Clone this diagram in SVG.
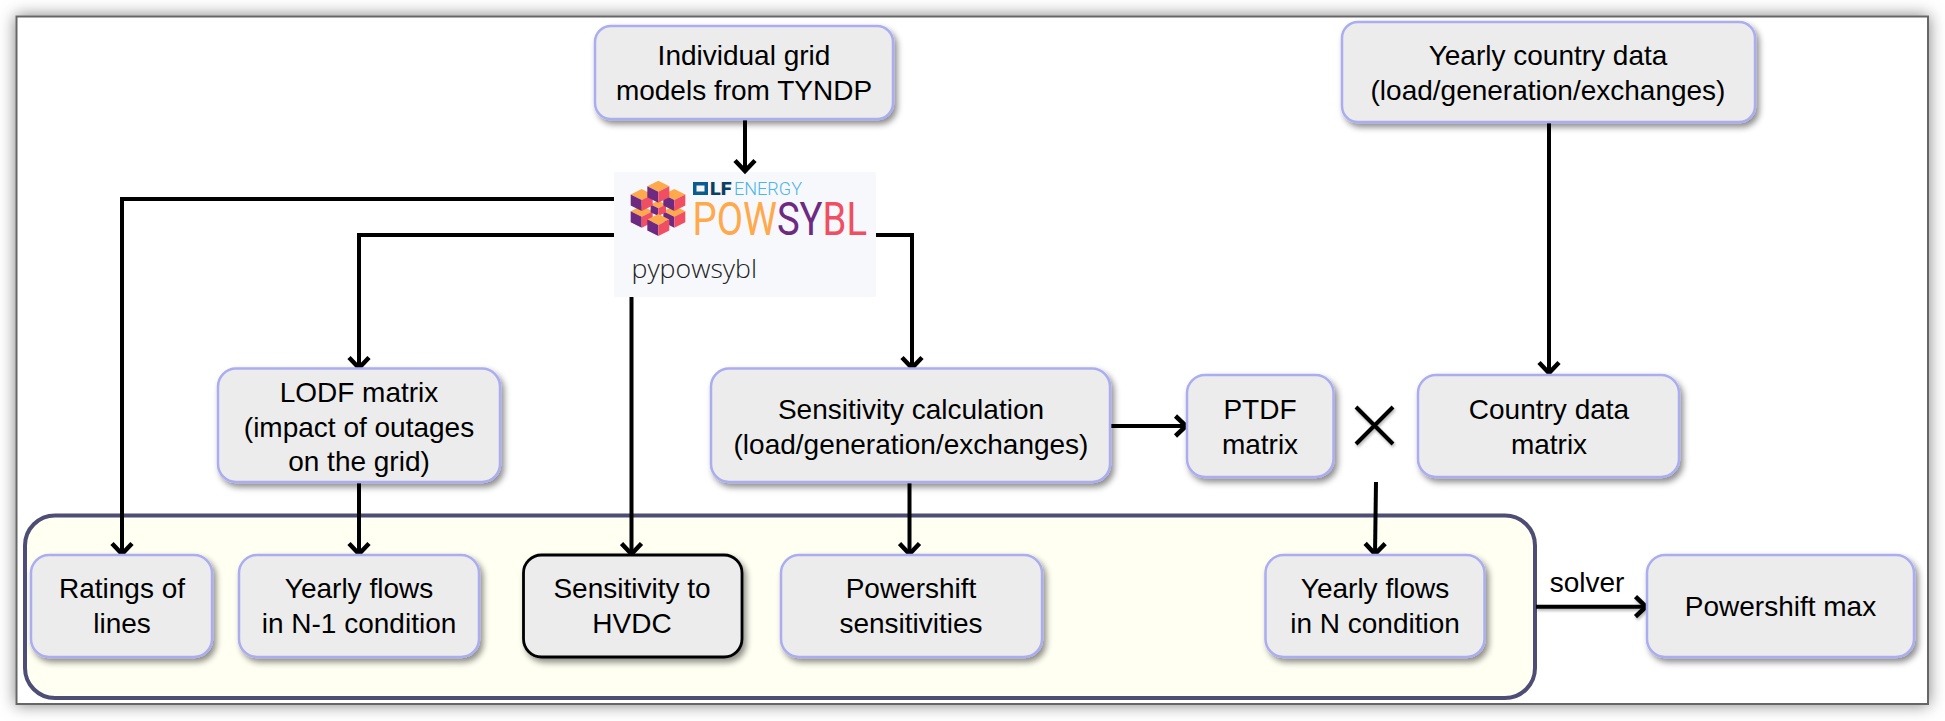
<svg xmlns="http://www.w3.org/2000/svg" width="1945" height="721" viewBox="0 0 1945 721">
<style>
.n{fill:#ececec;stroke:#abadf0;stroke-width:2.5}
.t{font-family:"Liberation Sans",Arial,sans-serif;font-size:28px;fill:#000;text-anchor:middle}
.c{fill:none;stroke:#000;stroke-width:4}
.a{marker-end:url(#ah)}
</style>
<defs>
<marker id="ah" markerUnits="userSpaceOnUse" markerWidth="24" markerHeight="24" refX="17" refY="12" orient="auto"><path d="M5.500 2L16 12L5.500 22" fill="none" stroke="#000" stroke-width="4.500"/></marker>
<filter id="sh" x="-10%" y="-10%" width="125%" height="130%"><feDropShadow dx="3" dy="4" stdDeviation="3" flood-color="#000" flood-opacity=".45"/></filter>
<filter id="ls" filterUnits="userSpaceOnUse" x="0" y="0" width="1945" height="721"><feDropShadow dx="1" dy="2" stdDeviation="1.500" flood-color="#000" flood-opacity=".3"/></filter>
<filter id="fs" x="-3%" y="-8%" width="106%" height="116%"><feDropShadow dx="0" dy="0" stdDeviation="8" flood-color="#000" flood-opacity=".5"/></filter>
<g id="cube"><path d="M0-11L11-5.500L0 0L-11-5.500Z" fill="#ffa94d"/><path d="M-11-5.500L0 0V11L-11 5.500Z" fill="#6d2a80"/><path d="M11-5.500L0 0V11L11 5.500Z" fill="#f04e63"/></g>
</defs>
<rect width="1945" height="721" fill="#fff"/>
<rect id="frame" x="16.500" y="16.500" width="1911.500" height="687.500" fill="#fff" stroke="#666" stroke-width="2" filter="url(#fs)"/>
<rect id="container" x="25" y="515.500" width="1510" height="182.500" rx="30" fill="#fffff2" stroke="#4d4d75" stroke-width="4"/>
<g id="powsybl">
<rect x="614" y="172" width="262" height="125" fill="#f7f8fb"/>
<use href="#cube" x="641.700" y="216.700"/><use href="#cube" x="674.300" y="216.700"/>
<use href="#cube" transform="translate(658.300 208.300) scale(.7)"/>
<use href="#cube" x="641.700" y="200"/><use href="#cube" x="674.300" y="200"/>
<use href="#cube" x="658.300" y="191.700"/><use href="#cube" x="658.300" y="225"/>
<path d="M693 182H708V195H693Z M696.500 185.500V191.500H704.500V185.500Z" fill="#0b5c8f" fill-rule="evenodd"/>
<text x="710" y="195" font-family="Roboto,sans-serif" font-weight="900" font-size="18" fill="#0d3f63" textLength="21.500" lengthAdjust="spacingAndGlyphs">LF</text>
<text x="734" y="195" font-family="Roboto,sans-serif" font-weight="300" font-size="18" fill="#4db4e6" textLength="68" lengthAdjust="spacingAndGlyphs">ENERGY</text>
<text x="692.500" y="235" font-family="Roboto,sans-serif" font-size="46" textLength="174.500" lengthAdjust="spacingAndGlyphs"><tspan fill="#ffa94d">POW</tspan><tspan fill="#6d2a80">SY</tspan><tspan fill="#f04e63">BL</tspan></text>
<text x="631.500" y="278" font-family="'Open Sans',sans-serif" font-weight="300" font-size="25" fill="#222" textLength="125.500" lengthAdjust="spacingAndGlyphs">pypowsybl</text>
</g>
<g id="connectors">
<path class="c a" d="M745 119V172"/>
<path class="c a" d="M614 199H122V555"/>
<path class="c a" d="M614 235H359V369"/>
<path class="c a" d="M876 235H912V369"/>
<path class="c a" d="M631.500 297V555"/>
<path class="c a" d="M359 482V555"/>
<path class="c a" d="M1110 426H1187"/>
<path class="c a" d="M909.500 482V555"/>
<path class="c a" d="M1549 122V374"/>
<path class="c a" d="M1376 482L1375 555"/>
<path class="c a" d="M1536 606.700H1647" filter="url(#ls)"/>
<path class="c" d="M1356 407L1393 444M1393 407L1356 444" filter="url(#ls)"/>
</g>
<g id="n1"><rect class="n" x="595" y="26" width="298" height="93" rx="16" filter="url(#sh)"/><text class="t" x="744" y="65">Individual grid</text><text class="t" x="744" y="99.500">models from TYNDP</text></g>
<g id="n2"><rect class="n" x="1342" y="22" width="413" height="100" rx="16" filter="url(#sh)"/><text class="t" x="1548" y="65">Yearly country data</text><text class="t" x="1548" y="99.500">(load/generation/exchanges)</text></g>
<g id="n3"><rect class="n" x="218" y="368.500" width="282" height="113.500" rx="18" filter="url(#sh)"/><text class="t" x="359" y="402">LODF matrix</text><text class="t" x="359" y="436.500">(impact of outages</text><text class="t" x="359" y="471">on the grid)</text></g>
<g id="n4"><rect class="n" x="711" y="368.500" width="399" height="113.500" rx="18" filter="url(#sh)"/><text class="t" x="911" y="419">Sensitivity calculation</text><text class="t" x="911" y="453.500">(load/generation/exchanges)</text></g>
<g id="n5"><rect class="n" x="1187" y="375" width="146.500" height="102" rx="18" filter="url(#sh)"/><text class="t" x="1260" y="419">PTDF</text><text class="t" x="1260" y="453.500">matrix</text></g>
<g id="n6"><rect class="n" x="1418" y="375" width="261" height="102" rx="18" filter="url(#sh)"/><text class="t" x="1549" y="419">Country data</text><text class="t" x="1549" y="453.500">matrix</text></g>
<g id="n7"><rect class="n" x="31" y="555" width="181" height="102" rx="18" filter="url(#sh)"/><text class="t" x="122" y="598">Ratings of</text><text class="t" x="122" y="632.500">lines</text></g>
<g id="n8"><rect class="n" x="239" y="555" width="240" height="102" rx="18" filter="url(#sh)"/><text class="t" x="359" y="598">Yearly flows</text><text class="t" x="359" y="632.500">in N-1 condition</text></g>
<g id="n9"><rect x="523.500" y="555" width="218.500" height="102" rx="18" fill="#ececec" stroke="#000" stroke-width="2.800" filter="url(#sh)"/><text class="t" x="632" y="598">Sensitivity to</text><text class="t" x="632" y="632.500">HVDC</text></g>
<g id="n10"><rect class="n" x="781" y="555" width="261" height="102" rx="18" filter="url(#sh)"/><text class="t" x="911" y="598">Powershift</text><text class="t" x="911" y="632.500">sensitivities</text></g>
<g id="n11"><rect class="n" x="1265.500" y="555" width="219" height="102" rx="18" filter="url(#sh)"/><text class="t" x="1375" y="598">Yearly flows</text><text class="t" x="1375" y="632.500">in N condition</text></g>
<g id="n12"><rect class="n" x="1647" y="555" width="267" height="102" rx="18" filter="url(#sh)"/><text class="t" x="1780.500" y="616">Powershift max</text></g>
<text class="t" x="1587" y="592">solver</text>
</svg>
